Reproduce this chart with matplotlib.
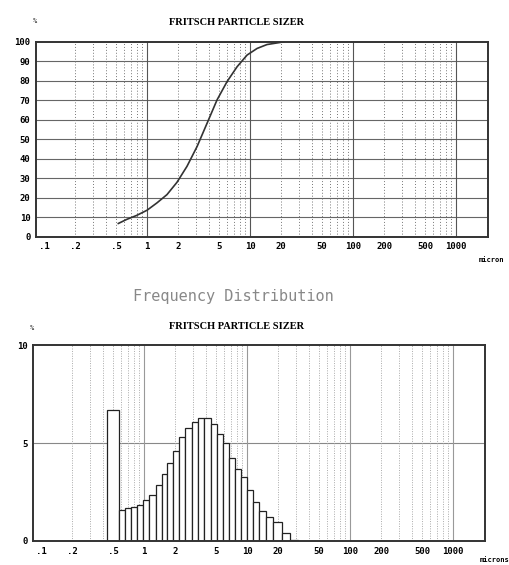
import numpy as np
import matplotlib.pyplot as plt
from matplotlib.ticker import FixedLocator, NullFormatter

# ----------------------------------------- DATA -----------------------------------------

tick_vals = [0.1, 0.2, 0.5, 1, 2, 5, 10, 20, 50, 100, 200, 500, 1000]
tick_labels = ['.1', '.2', '.5', '1', '2', '5', '10', '20', '50', '100', '200', '500', '1000']

# cumulative curve (size in micron, % undersize)
cum_size = [0.526, 0.635, 0.79, 1.0, 1.25, 1.56, 1.95, 2.44, 3.06, 3.83, 4.78,
            5.98, 7.48, 9.35, 11.7, 14.6, 21.4]
cum_pct = [6.8, 8.9, 10.9, 13.6, 17.4, 21.6, 27.9, 36.1, 46.3, 58.3, 70.2,
           79.6, 87.2, 93.2, 96.6, 98.6, 100.0]

# frequency histogram: bin edges (micron) and % per bin
bin_edges = [0.44, 0.57, 0.65, 0.75, 0.85, 0.97, 1.12, 1.31, 1.49, 1.66, 1.93,
             2.20, 2.52, 2.90, 3.37, 3.83, 4.44, 5.08, 5.81, 6.64, 7.59, 8.69,
             9.93, 11.4, 13.2, 15.2, 17.7, 21.7, 26.1, 31.5]
freq = [6.7, 1.58, 1.67, 1.75, 1.84, 2.09, 2.35, 2.86, 3.40, 3.96, 4.61, 5.32,
        5.75, 6.09, 6.26, 6.26, 6.0, 5.46, 5.03, 4.25, 3.66, 3.28, 2.60, 2.0,
        1.53, 1.24, 0.95, 0.43, 0.05]

XLIM = (0.0835, 2040)
MONO = 'DejaVu Sans Mono'


# ----------------------------------------- HELPERS -----------------------------------------

def log_grid(ax, major_color, minor_color, ls_minor):
    decades = [0.1, 1, 10, 100, 1000]
    for d in decades[1:]:
        ax.axvline(d, color=major_color, lw=0.8, zorder=0)
    for d in decades:
        for m in range(2, 10):
            v = d * m
            if XLIM[0] < v < XLIM[1]:
                ax.axvline(v, color=minor_color, lw=0.7, ls=ls_minor, zorder=0)


def style_axes(ax):
    ax.set_xscale('log')
    ax.set_xlim(*XLIM)
    ax.xaxis.set_major_locator(FixedLocator(tick_vals))
    ax.xaxis.set_minor_locator(FixedLocator([]))
    ax.xaxis.set_minor_formatter(NullFormatter())
    ax.set_xticklabels(tick_labels, family=MONO, fontweight='bold', fontsize=6.5)
    ax.tick_params(axis='both', length=0, pad=4)
    for s in ax.spines.values():
        s.set_linewidth(1.4)
        s.set_color('#333333')


# ----------------------------------------- FIGURE -----------------------------------------

fig = plt.figure(figsize=(5.09, 5.65), dpi=100)

# top: cumulative
ax1 = fig.add_axes([0.0707, 0.581, 0.888, 0.345])
style_axes(ax1)
ax1.set_ylim(0, 100)
ax1.set_yticks(range(0, 101, 10))
ax1.set_yticklabels([str(v) for v in range(0, 101, 10)], family=MONO,
                    fontweight='bold', fontsize=6.5)
for v in range(10, 100, 10):
    ax1.axhline(v, color='#666666', lw=0.8, zorder=0)
log_grid(ax1, '#555555', '#777777', (0, (1, 2)))
ax1.plot(cum_size, cum_pct, color='#333333', lw=1.2)

fig.text(0.464, 0.961, 'FRITSCH PARTICLE SIZER', ha='center', va='center',
         family='Liberation Serif', fontweight='bold', fontsize=7.5)
fig.text(0.068, 0.962, '%', ha='center', va='center', family=MONO, fontsize=5)
fig.text(0.99, 0.540, 'micron', ha='right', va='center', family=MONO,
         fontweight='bold', fontsize=5)

fig.text(0.459, 0.476, 'Frequency Distribution', ha='center', va='center',
         family=MONO, fontsize=11, color='#888888')

# bottom: frequency histogram
ax2 = fig.add_axes([0.0648, 0.0425, 0.888, 0.3465])
style_axes(ax2)
ax2.set_ylim(0, 10)
ax2.set_yticks([0, 5, 10])
ax2.set_yticklabels(['0', '5', '10'], family=MONO, fontweight='bold', fontsize=6.5)
ax2.axhline(5, color='#888888', lw=0.8, zorder=0)
log_grid(ax2, '#999999', '#aaaaaa', (0, (1, 1.5)))

left = np.array(bin_edges[:-1])
width = np.array(bin_edges[1:]) - left
ax2.bar(left, freq, width=width, align='edge', facecolor='white',
        edgecolor='#222222', linewidth=0.9, zorder=2)

fig.text(0.464, 0.423, 'FRITSCH PARTICLE SIZER', ha='center', va='center',
         family='Liberation Serif', fontweight='bold', fontsize=7.5)
fig.text(0.063, 0.419, '%', ha='center', va='center', family=MONO, fontsize=5)
fig.text(1.0, 0.004, 'microns', ha='right', va='bottom', family=MONO,
         fontweight='bold', fontsize=5)

fig.savefig('out.png', dpi=100, facecolor='white')
